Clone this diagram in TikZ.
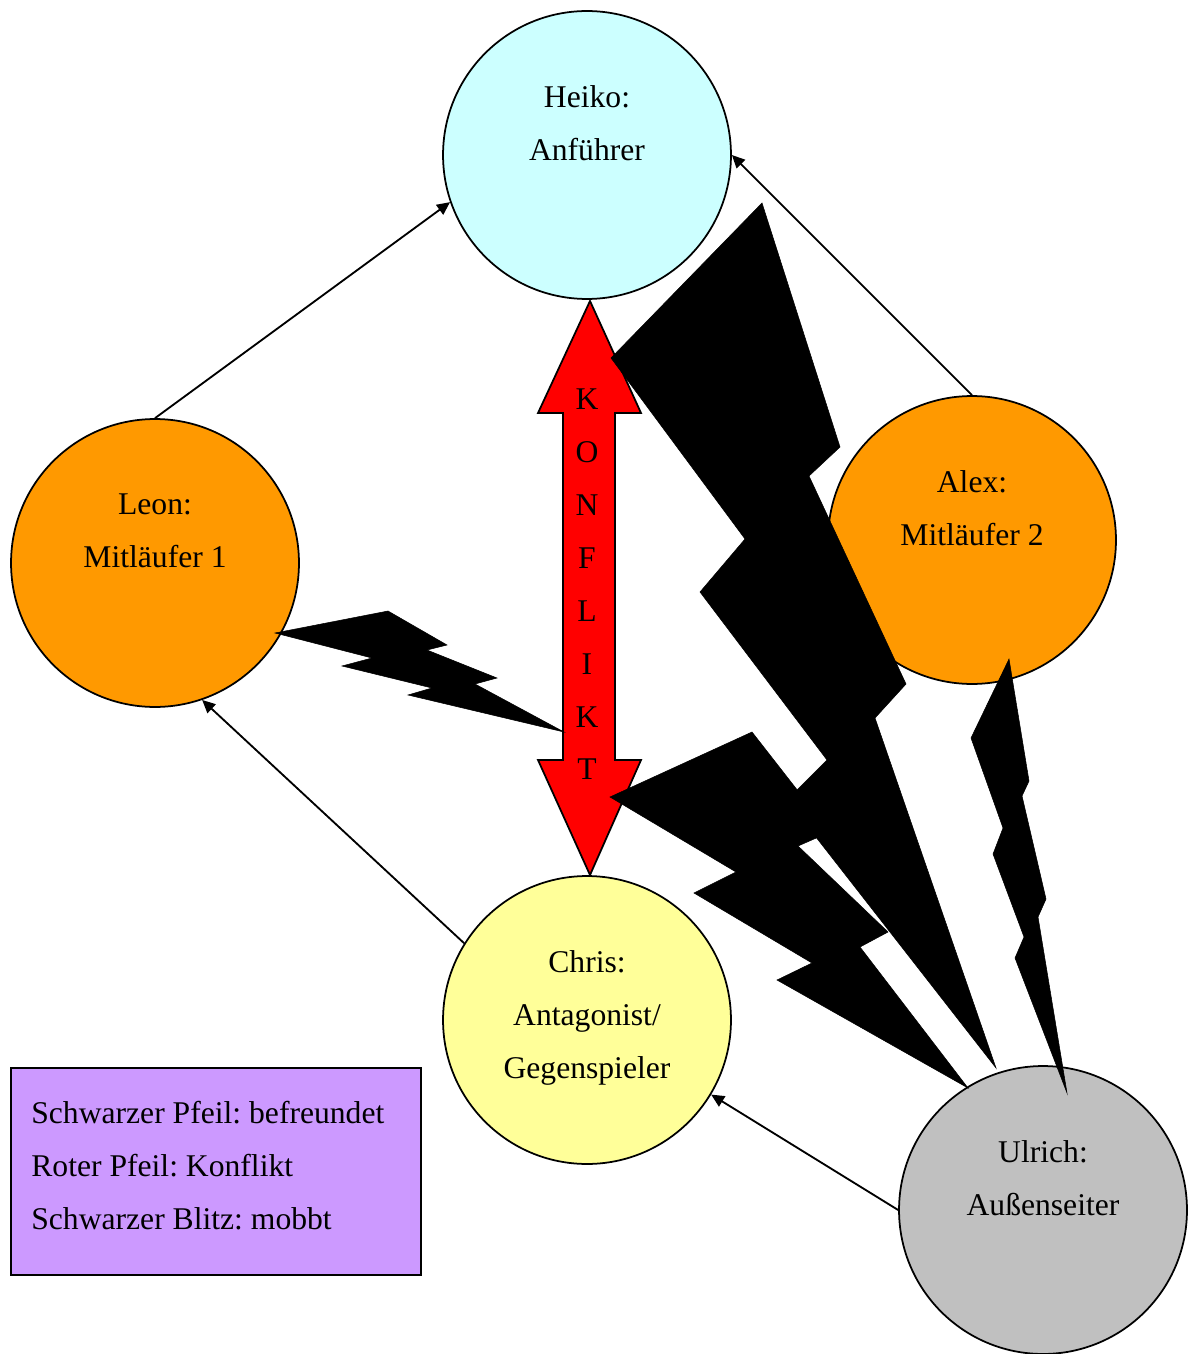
\documentclass[tikz,border=0pt]{standalone}
\usepackage{fontspec}
\setmainfont{Liberation Serif}
\usetikzlibrary{arrows.meta,calc}
\definecolor{leadcol}{HTML}{CCFFFF}
\definecolor{followcol}{HTML}{FF9900}
\definecolor{rivalcol}{HTML}{FFFF99}
\definecolor{outcol}{HTML}{C0C0C0}
\definecolor{legendcol}{HTML}{CC99FF}
\frenchspacing
\begin{document}
\begin{tikzpicture}[x=0.02cm,y=-0.02cm,
    person/.style={circle,draw,line width=1pt,minimum size=5.76cm,inner sep=0pt},
    txt/.style={align=center,inner sep=0pt,font=\fontsize{18}{30.16}\selectfont,
      execute at begin node={\rule{0pt}{13pt}}},
    friend/.style={line width=1.05pt,-{Triangle[length=0.26cm,width=0.24cm]}},
    bolt/.style={fill=black,draw=black,line width=0.3pt}]
  \useasboundingbox (0,0) rectangle (1187,1354);
  % persons
  \node[person,fill=leadcol] (heiko) at (587,155) {};
  \node[person,fill=followcol] (leon) at (155,563) {};
  \node[person,fill=followcol] (alex) at (972,540) {};
  \node[person,fill=rivalcol] (chris) at (587,1020) {};
  \node[person,fill=outcol] (ulrich) at (1043,1210) {};
  % befreundet
  \draw[friend] (leon.north) -- (heiko.199);
  \draw[friend] (alex.north) -- (heiko.east);
  \draw[friend] (chris.148) -- (leon.289);
  \draw[friend] (ulrich.west) -- (chris.329);
  % Konflikt
  \draw[fill=red,line width=1pt] (590,301) -- (641,413) -- (615,413) -- (615,760) -- (641,760)
    -- (590,875) -- (538,760) -- (563,760) -- (563,413) -- (538,413) -- cycle;
  % mobbt
  \draw[bolt] (611,358) -- (762,203) -- (840,447) -- (809,476) -- (906,684) -- (875,718)
    -- (996,1068) -- (787,800) -- (827,760) -- (700,592) -- (745,539) -- cycle;
  \draw[bolt] (610,797) -- (752,732) -- (830,832) -- (798,846) -- (888,932) -- (860,947)
    -- (968,1088) -- (777,980) -- (812,963) -- (694,893) -- (736,872) -- cycle;
  \draw[bolt] (1009,659) -- (1029,781) -- (1022,796) -- (1046,899) -- (1038,917) -- (1067,1093)
    -- (1015,958) -- (1024,937) -- (993,854) -- (1003,828) -- (971,738) -- cycle;
  \draw[bolt] (275,633) -- (388,611) -- (447,645) -- (427,650) -- (497,678) -- (475,684)
    -- (564,732) -- (408,695) -- (432,688) -- (342,666) -- (372,658) -- cycle;
  % texts
  \node[txt,anchor=north] (heikotxt) at ($(heiko.center)+(0,-70)$) {Heiko:\\Anführer};
  \node[txt,anchor=north] (leontxt) at ($(leon.center)+(0,-70)$) {Leon:\\Mitläufer 1};
  \node[txt,anchor=north] (alextxt) at ($(alex.center)+(0,-70)$) {Alex:\\Mitläufer 2};
  \node[txt,anchor=north] (christxt) at ($(chris.center)+(0,-70)$) {Chris:\\Antagonist/\\Gegenspieler};
  \node[txt,anchor=north] (ulrichtxt) at ($(ulrich.center)+(0,-70)$) {Ulrich:\\Außenseiter};
  \node[txt,anchor=north] (konflikt) at (587,388) {K\\O\\N\\F\\L\\I\\K\\T};
  % legend
  \node[draw,fill=legendcol,line width=1pt,minimum width=8.2cm,minimum height=4.14cm] (legend) at (216,1171.5) {};
  \node[txt,align=left,anchor=north west] (legendtxt) at (31,1101)
    {Schwarzer Pfeil: befreundet\\Roter Pfeil: Konflikt\\Schwarzer Blitz: mobbt};
\end{tikzpicture}
\end{document}
